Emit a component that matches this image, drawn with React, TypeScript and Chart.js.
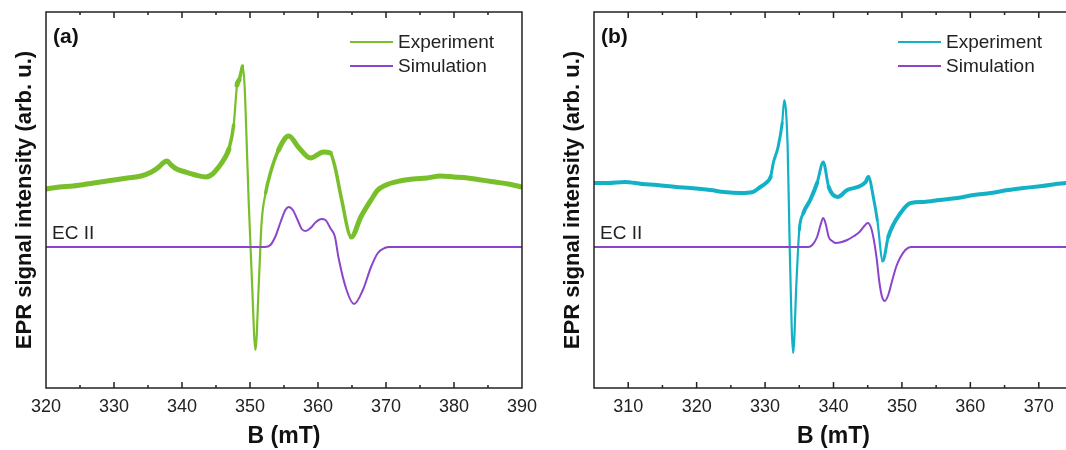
import React, { useEffect, useRef } from "react";
import { Chart, registerables } from "chart.js";

Chart.register(...registerables);

const FONT = "'Liberation Sans', Arial, Helvetica, sans-serif";

// ---------- axes ----------
const A_X_MIN = 320;
const A_X_MAX = 390;
const A_TICKS = [320, 330, 340, 350, 360, 370, 380, 390];
const B_X_MIN = 305;
const B_X_MAX = 375;
const B_TICKS = [310, 320, 330, 340, 350, 360, 370];
const Y_MIN = -1.41;
const Y_MAX = 2.35;

const LEGEND_LABELS = ["Experiment", "Simulation"];
const SAMPLE_LABEL = "EC II";
const X_TITLE = "B (mT)";
const Y_TITLE = "EPR signal intensity (arb. u.)";

// ---------- panel (a) ----------
const expA_B = [320, 322, 324, 327, 330, 332, 334, 335.5, 336.6, 337.2, 337.8, 338.4, 339.2, 340.5, 342, 343.5, 344.5, 345.4, 346.2, 346.9, 347.6, 348.1, 348.4, 348.7, 348.9, 349.2, 349.5, 349.8, 350.3, 350.8, 351.3, 351.7, 352.3, 353.0, 354.2, 355.7, 357.1, 358.9, 360.8, 361.8, 362.5, 363.4, 364.9, 366.3, 367.8, 368.8, 370, 372, 374, 376, 378, 380, 382, 384, 386, 388, 390];
const expA_I = [0.58, 0.60, 0.61, 0.64, 0.67, 0.69, 0.71, 0.75, 0.80, 0.84, 0.86, 0.82, 0.78, 0.75, 0.72, 0.70, 0.73, 0.80, 0.88, 0.98, 1.22, 1.62, 1.67, 1.75, 1.81, 1.62, 1.07, 0.47, -0.36, -1.03, -0.36, 0.24, 0.54, 0.74, 0.97, 1.11, 1.00, 0.89, 0.95, 0.94, 0.80, 0.50, 0.10, 0.30, 0.47, 0.57, 0.62, 0.66, 0.68, 0.69, 0.71, 0.70, 0.69, 0.67, 0.65, 0.63, 0.60];

const simA_B = [320, 352.2, 353.0, 353.7, 354.5, 355.2, 355.7, 356.3, 357.0, 357.6, 358.2, 358.9, 359.7, 360.5, 361.1, 361.8, 362.5, 363.0, 364.2, 365.3, 366.6, 367.8, 368.8, 369.8, 370.5, 390];
const simA_I = [0, 0, 0.02, 0.10, 0.25, 0.37, 0.40, 0.37, 0.27, 0.18, 0.16, 0.19, 0.25, 0.28, 0.27, 0.19, 0.10, -0.10, -0.43, -0.57, -0.43, -0.20, -0.06, -0.01, 0, 0];

// ---------- panel (b) ----------
const expB_B = [305, 307, 309.5, 312, 314.2, 317, 319.1, 322, 324, 326.4, 328.2, 329.3, 330.3, 330.8, 331.2, 331.9, 332.5, 332.8, 333.3, 333.6, 334.1, 334.6, 335.0, 335.6, 336.6, 337.6, 338.5, 339.3, 340.6, 342.0, 343.5, 344.7, 345.1, 345.9, 346.4, 347.2, 348.0, 349.8, 351.3, 353.2, 355.5, 358.1, 360.5, 363.0, 365.5, 367.8, 370.5, 372.5, 375];
const expB_I = [0.64, 0.64, 0.65, 0.63, 0.62, 0.60, 0.59, 0.57, 0.55, 0.54, 0.55, 0.60, 0.65, 0.70, 0.84, 1.00, 1.24, 1.47, 1.00, 0.00, -1.06, -0.33, 0.17, 0.34, 0.47, 0.64, 0.85, 0.60, 0.50, 0.57, 0.60, 0.65, 0.70, 0.47, 0.27, -0.14, 0.10, 0.34, 0.44, 0.45, 0.47, 0.49, 0.52, 0.54, 0.57, 0.59, 0.61, 0.63, 0.65];

const simB_B = [305, 336.3, 336.9, 337.6, 338.1, 338.5, 338.9, 339.3, 339.8, 340.3, 341.2, 342.0, 343.0, 343.8, 344.5, 345.0, 345.5, 345.9, 346.3, 346.7, 347.1, 347.5, 348.0, 348.6, 349.2, 349.8, 350.5, 351.3, 375];
const simB_I = [0, 0, 0.02, 0.10, 0.22, 0.29, 0.22, 0.10, 0.06, 0.04, 0.05, 0.07, 0.11, 0.15, 0.21, 0.24, 0.19, 0.07, -0.11, -0.35, -0.50, -0.54, -0.48, -0.33, -0.19, -0.10, -0.03, 0, 0];

const GREEN = "#79BF2B";
const CYAN = "#13B1C6";
const PURPLE = "#8B45CC";

type PanelProps = {
  tag: string;
  expX: number[];
  expY: number[];
  simX: number[];
  simY: number[];
  color: string;
  xMin: number;
  xMax: number;
  ticks: number[];
  thick: number;
  left: number;
};

function Panel(p: PanelProps) {
  const ref = useRef<HTMLCanvasElement | null>(null);
  useEffect(() => {
    if (!ref.current) return;
    const toPts = (xs: number[], ys: number[]) => xs.map((x, i) => ({ x, y: ys[i] }));
    const decor = {
      id: "decor",
      afterDraw(chart: any) {
        const { ctx, chartArea: a, scales } = chart;
        const x = scales.x;
        ctx.save();
        ctx.strokeStyle = "#222";
        ctx.lineWidth = 1.5;
        ctx.strokeRect(a.left, a.top, a.right - a.left, a.bottom - a.top);
        ctx.beginPath();
        for (let v = Math.ceil(p.xMin / 5) * 5; v <= p.xMax; v += 5) {
          const px = x.getPixelForValue(v);
          if (px <= a.left + 1 || px >= a.right - 1) continue;
          const len = v % 10 === 0 ? 6 : 3;
          ctx.moveTo(px, a.bottom);
          ctx.lineTo(px, a.bottom - len);
          ctx.moveTo(px, a.top);
          ctx.lineTo(px, a.top + len);
        }
        ctx.stroke();
        ctx.fillStyle = "#111";
        ctx.textBaseline = "middle";
        ctx.textAlign = "left";
        ctx.font = `bold 21px ${FONT}`;
        ctx.fillText(p.tag, 53, 37);
        ctx.fillStyle = "#222";
        ctx.font = `19px ${FONT}`;
        ctx.fillText(SAMPLE_LABEL, 52, 234);
        const cols = [p.color, PURPLE];
        LEGEND_LABELS.forEach((lab, i) => {
          const y = 42 + i * 24;
          ctx.strokeStyle = cols[i];
          ctx.lineWidth = 2;
          ctx.beginPath();
          ctx.moveTo(350, y);
          ctx.lineTo(393, y);
          ctx.stroke();
          ctx.fillStyle = "#222";
          ctx.fillText(lab, 398, y + 1);
        });
        ctx.restore();
      },
    };
    const thick = p.thick;
    const chart = new Chart(ref.current, {
      type: "line",
      data: {
        datasets: [
          {
            label: LEGEND_LABELS[1],
            data: toPts(p.simX, p.simY),
            borderColor: PURPLE,
            borderWidth: 2,
            pointRadius: 0,
            cubicInterpolationMode: "monotone",
          },
          {
            label: LEGEND_LABELS[0],
            data: toPts(p.expX, p.expY),
            borderColor: p.color,
            borderWidth: thick,
            borderCapStyle: "round",
            borderJoinStyle: "round",
            pointRadius: 0,
            cubicInterpolationMode: "monotone",
            segment: {
              borderWidth: (ctx: any) => {
                const dx = Math.abs(ctx.p1.x - ctx.p0.x) || 0.01;
                const s = Math.abs(ctx.p1.y - ctx.p0.y) / dx;
                return s > 6 ? 2.2 : s > 2.5 ? Math.max(3, thick - 1.5) : thick;
              },
            },
          },
        ],
      },
      options: {
        animation: false,
        responsive: false,
        maintainAspectRatio: false,
        layout: { padding: { left: 0, right: 20, top: 12, bottom: 0 } },
        plugins: { legend: { display: false }, tooltip: { enabled: false } },
        elements: { point: { radius: 0 } },
        scales: {
          x: {
            type: "linear",
            min: p.xMin,
            max: p.xMax,
            afterBuildTicks: (s: any) => {
              s.ticks = p.ticks.map((v) => ({ value: v }));
            },
            afterFit: (s: any) => {
              s.height = 62;
            },
            grid: { display: false, drawTicks: false },
            border: { display: false },
            ticks: {
              font: { family: FONT, size: 18 },
              color: "#222",
              padding: 8,
              autoSkip: false,
              maxRotation: 0,
            },
            title: {
              display: true,
              text: X_TITLE,
              color: "#111",
              font: { family: FONT, size: 23, weight: "bold" },
              padding: { top: 0, bottom: 0 },
            },
          },
          y: {
            type: "linear",
            min: Y_MIN,
            max: Y_MAX,
            afterFit: (s: any) => {
              s.width = 46;
            },
            ticks: { display: false },
            grid: { display: false, drawTicks: false },
            border: { display: false },
            title: {
              display: true,
              text: Y_TITLE,
              color: "#111",
              font: { family: FONT, size: 22, weight: "bold" },
              padding: { top: 12, bottom: 0 },
            },
          },
        },
      },
      plugins: [decor],
    } as any);
    return () => chart.destroy();
  }, []);
  return (
    <canvas
      ref={ref}
      width={545}
      height={450}
      style={{ position: "absolute", left: p.left, top: 0, width: 545, height: 450 }}
    />
  );
}

export default function App() {
  return (
    <div
      style={{
        position: "fixed",
        left: 0,
        top: 0,
        width: 1066,
        height: 450,
        overflow: "hidden",
        background: "#fff",
      }}
    >
      <Panel tag="(a)" expX={expA_B} expY={expA_I} simX={simA_B} simY={simA_I} color={GREEN} xMin={A_X_MIN} xMax={A_X_MAX} ticks={A_TICKS} thick={5} left={0} />
      <Panel tag="(b)" expX={expB_B} expY={expB_I} simX={simB_B} simY={simB_I} color={CYAN} xMin={B_X_MIN} xMax={B_X_MAX} ticks={B_TICKS} thick={4} left={548} />
    </div>
  );
}
